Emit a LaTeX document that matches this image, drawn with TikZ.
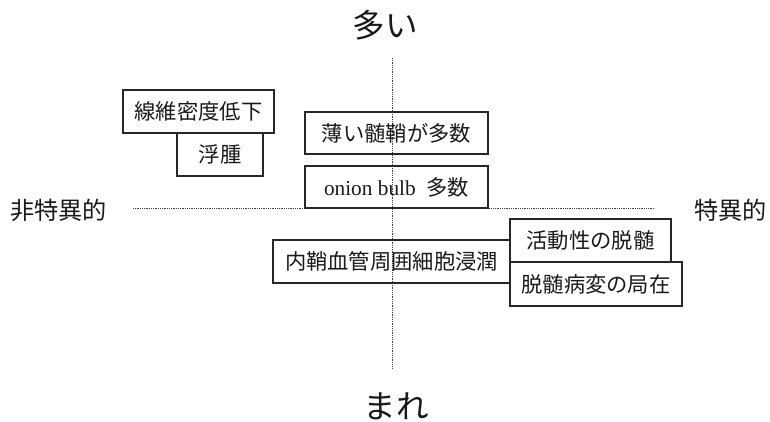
\documentclass[tikz,border=0pt]{standalone}
\usepackage{fontspec}
\setmainfont{Noto Sans CJK JP}
\newfontfamily\latinserif{Liberation Serif}
\begin{document}
\begin{tikzpicture}[x=1pt,y=-1pt,
  axisline/.style={draw=black!75, line width=0.7pt, dash pattern=on 0.7pt off 1.1pt},
  boxnode/.style={draw=black!85, line width=1.1pt, inner sep=0pt, font=\fontsize{21.3}{22}\selectfont, text=black!90},
  biglabel/.style={font=\fontsize{32.5}{33}\selectfont, text=black!90, inner sep=0pt},
  sidelabel/.style={font=\fontsize{24.2}{25}\selectfont, text=black!90, inner sep=0pt}]
\useasboundingbox (0,0) rectangle (770,421);
% axes
\coordinate (vt) at (392,58);
\coordinate (vb) at (392,368);
\coordinate (hl) at (133,208);
\coordinate (hr) at (655,208);
\draw[axisline] (vt) -- (vb);
\draw[axisline] (hl) -- (hr);
% axis labels
\node[biglabel] (many) at (385,25) {多い};
\node[biglabel] (rare) at (396,406) {まれ};
\node[sidelabel, anchor=west] (nonspec) at (10,210) {非特異的};
\node[sidelabel, anchor=west] (spec) at (694,210) {特異的};
% boxes
\node[boxnode, minimum width=151pt, minimum height=43pt] (fib) at (198.5,111.5) {線維密度低下};
\node[boxnode, minimum width=86pt, minimum height=43pt] (edema) at (220,154.5) {浮腫};
\node[boxnode, minimum width=183pt, minimum height=42pt] (thin) at (396.5,133) {薄い髄鞘が多数};
\node[boxnode, minimum width=183pt, minimum height=42pt] (onion) at (396.5,187) {{\latinserif onion bulb}\hspace{0.5em}多数};
\node[boxnode, minimum width=237pt, minimum height=43pt] (endo) at (391.5,261.5) {内鞘血管周囲細胞浸潤};
\node[boxnode, minimum width=161pt, minimum height=43pt] (active) at (590.5,240.5) {活動性の脱髄};
\node[boxnode, minimum width=172pt, minimum height=44pt] (local) at (596,284) {脱髄病変の局在};
\end{tikzpicture}
\end{document}
